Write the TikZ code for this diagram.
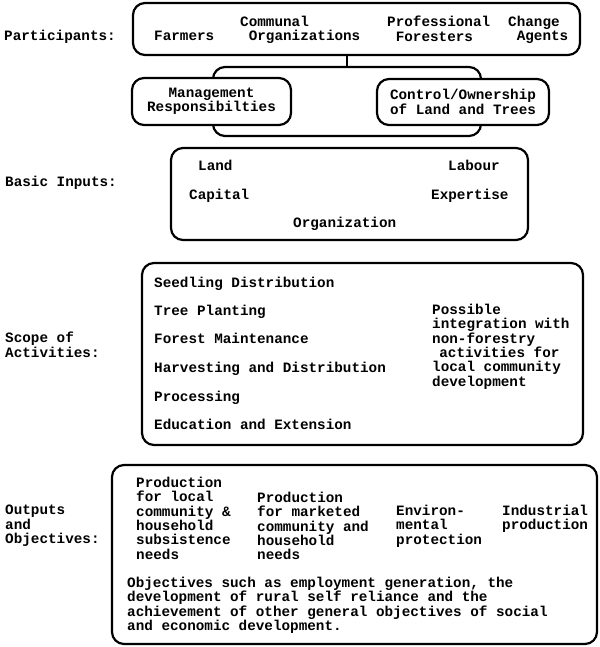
\documentclass[tikz,border=0pt]{standalone}
\usepackage{fontspec}
\setmainfont{Liberation Mono}
\tikzset{
  box/.style={draw, line width=2.2pt, rounded corners=12pt, fill=white},
  txt/.style={anchor=north west, inner sep=0pt, align=left, execute at begin node=\strut},
  link/.style={line width=2.2pt}
}
\newcommand{\onechar}{\hspace*{.6em}}

\begin{document}
\begin{tikzpicture}[x=1pt, y=-1pt, font=\bfseries\fontsize{14.3}{14.3}\selectfont]
\useasboundingbox (0,0) rectangle (599,647);

% participants
\node[box, minimum width=447pt, minimum height=52pt] (part) at (356.5,29) {};
\node[txt] (partlbl) at (4,30) {Participants:};
\node[txt] (farmers) at (154,30) {Farmers};
\node[txt] (communal) at (240,16) {Communal\\\onechar Organizations};
\node[txt] (foresters) at (387,16) {Professional\\\onechar Foresters};
\node[txt] (agents) at (508,16) {Change\\\onechar Agents};

% responsibilities
\node[box, fill=none, minimum width=268pt, minimum height=69pt] (resp) at (347,101.5) {};
\node[box, minimum width=159pt, minimum height=47pt, align=center] (mgmt) at (211.5,101.5) {Management\\Responsibilties};
\node[box, minimum width=172pt, minimum height=46pt, align=center] (ctrl) at (463,102) {Control/Ownership\\of Land and Trees};
\draw[link] (part.south -| resp.north) -- (resp.north);

% basic inputs
\node[box, minimum width=357pt, minimum height=92pt] (inputs) at (349.5,194) {};
\node[txt] (inputslbl) at (5,176) {Basic Inputs:};
\node[txt] (land) at (198,160) {Land};
\node[txt] (labour) at (448,160) {Labour};
\node[txt] (capital) at (189,189) {Capital};
\node[txt] (expertise) at (431,189) {Expertise};
\node[txt] (organization) at (293,217) {Organization};

% scope of activities
\node[box, minimum width=441pt, minimum height=182pt] (scope) at (362.5,354) {};
\node[txt] (scopelbl) at (5,332) {Scope of\\Activities:};
\node[txt] (seedling) at (154,277) {Seedling Distribution};
\node[txt] (planting) at (154,305) {Tree Planting};
\node[txt] (maintenance) at (154,333) {Forest Maintenance};
\node[txt] (harvesting) at (154,362) {Harvesting and Distribution};
\node[txt] (processing) at (154,391) {Processing};
\node[txt] (education) at (154,419) {Education and Extension};
\node[txt] (possible) at (432,304) {Possible\\integration with\\non-forestry\\\hspace*{.5em}activities for\\local community\\development};

% outputs and objectives
\node[box, minimum width=485pt, minimum height=179pt] (outputs) at (354.5,554.5) {};
\node[txt] (outlbl) at (5,505) {Outputs\\and\\Objectives:};
\node[txt] (local) at (136,477) {Production\\for local\\community \&\\household\\subsistence\\needs};
\node[txt] (marketed) at (257,492) {Production\\for marketed\\community and\\household\\needs};
\node[txt] (environ) at (396,505) {Environ-\\mental\\protection};
\node[txt] (industrial) at (502,505) {Industrial\\production};
\node[txt] (objectives) at (127,577) {Objectives such as employment generation, the\\development of rural self reliance and the\\achievement of other general objectives of social\\and economic development.};
\end{tikzpicture}
\end{document}
